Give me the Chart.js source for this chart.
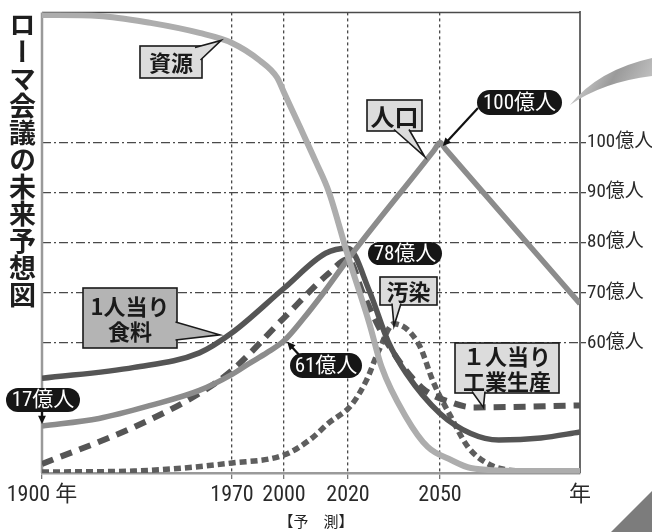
<!DOCTYPE html>
<html lang="ja">
<head>
<meta charset="utf-8">
<title>ローマ会議の未来予想図</title>
<script src="https://cdn.jsdelivr.net/npm/chart.js@4"></script>
<style>
  body { margin: 0; background: #fff; }
  #wrap { position: relative; width: 652px; height: 532px; }
  #title {
    position: absolute; left: 7px; top: 11px;
    writing-mode: vertical-rl;
    font: bold 27px "Noto Sans CJK JP", sans-serif;
    line-height: 30px; color: #1e1e1e;
  }
</style>
</head>
<body>
<div id="wrap">
  <canvas id="chart"></canvas>
  <div id="title">ローマ会議の未来予想図</div>
</div>
<script>
// tick labels
const xTickYears = [1900, 1970, 2000, 2020, 2050, 2100];
const xTickLabels = ["1900 年", "1970", "2000", "2020", "2050", "年"];
const yTickValues = [60, 70, 80, 90, 100];
const yTickUnit = "億人";

// series (y is on the 億人 scale of the right axis)
const resourceYears = [1900, 1921, 1940, 1958, 1970, 1986, 1996, 2000, 2005, 2010, 2014, 2020, 2027, 2031, 2039, 2046, 2054, 2061, 2079, 2100];
const resourceValues = [125.5, 125.3, 123.9, 121.9, 119.9, 116.4, 113.0, 110.0, 103.1, 96.1, 90.2, 77.3, 63.8, 55.1, 45.1, 39.2, 36.6, 35.0, 34.4, 34.4];

const populationYears = [1900, 1921, 1940, 1958, 1970, 1980, 1990, 2000, 2006, 2012, 2020, 2048, 2050, 2052, 2100];
const populationValues = [43.4, 44.9, 47.5, 50.5, 53.7, 55.9, 58.0, 60.4, 64.8, 69.7, 76.7, 98.4, 100, 98.7, 67.8];

const foodYears = [1900, 1934, 1958, 1970, 2000, 2013, 2020, 2027, 2033, 2039, 2050, 2061, 2071, 2086, 2100];
const foodValues = [52.9, 55.1, 58.0, 62.0, 70.9, 77.9, 78.9, 70.3, 60.4, 53.9, 45.9, 41.9, 40.6, 41.0, 42.2];

const industryYears = [1900, 1934, 1958, 1970, 2000, 2014, 2020, 2025, 2033, 2044, 2055, 2062, 2100];
const industryValues = [35.8, 43.2, 49.9, 54.5, 65.0, 73.9, 76.7, 69.7, 59.8, 51.1, 47.9, 47.1, 47.5];

const pollutionYears = [1900, 1934, 1970, 2000, 2008, 2014, 2021, 2026, 2030, 2035, 2043, 2048, 2054, 2060, 2068, 2079, 2100];
const pollutionValues = [34.2, 34.4, 36.0, 37.6, 40.6, 44.0, 47.5, 52.5, 58.4, 63.8, 59.8, 51.9, 45.1, 39.2, 35.6, 34.4, 34.2];

const toPoints = (xs, ys) => xs.map((x, i) => ({ x: x, y: ys[i] }));

// the original x axis is not to scale: every period gets its own width
const periodYears = [1900, 1970, 2000, 2020, 2050, 2100];
const periodFracs = [0, 190 / 538, 242 / 538, 306 / 538, 398 / 538, 1];

class PeriodScale extends Chart.LinearScale {
  getPixelForValue(value) {
    let i = 1;
    while (i < periodYears.length - 1 && value > periodYears[i]) i++;
    const t = (value - periodYears[i - 1]) / (periodYears[i] - periodYears[i - 1]);
    return this.getPixelForDecimal(periodFracs[i - 1] + t * (periodFracs[i] - periodFracs[i - 1]));
  }
  getValueForPixel(pixel) {
    const f = this.getDecimalForPixel(pixel);
    let i = 1;
    while (i < periodFracs.length - 1 && f > periodFracs[i]) i++;
    const t = (f - periodFracs[i - 1]) / (periodFracs[i] - periodFracs[i - 1]);
    return periodYears[i - 1] + t * (periodYears[i] - periodYears[i - 1]);
  }
}
PeriodScale.id = "period";
PeriodScale.defaults = Chart.LinearScale.defaults;
Chart.register(PeriodScale);

const narrowFont = '"Roboto Condensed", "Noto Sans CJK JP", sans-serif';
const jpFont = '"Noto Sans CJK JP", sans-serif';

// callouts
const boxNotes = [
  { lines: ["資源"], x: 140, y: 46, w: 62, h: 32, fill: "#dcdcdc", size: 22, tip: [1966, 120.4], base: [[195, 47.5], [200.5, 60]] },
  { lines: ["人口"], x: 367, y: 100, w: 55, h: 31, fill: "#dcdcdc", size: 24, tip: [2045, 97.2], base: [[394, 129.5], [409, 129.5]] },
  { lines: ["汚染"], x: 380, y: 277, w: 57, h: 28, fill: "#dcdcdc", size: 22, tip: [2035, 63.4], base: [[392, 303.5], [401, 303.5]] },
  { lines: ["1人当り", "食料"], x: 83, y: 288, w: 94, h: 60, fill: "#b4b4b4", size: 22, tip: [1965.5, 61.6], base: [[175.5, 322], [175.5, 340]] },
  { lines: ["１人当り", "工業生産"], x: 455, y: 343, w: 104, h: 50, fill: "#dcdcdc", size: 22, tip: [2065.5, 47.1], base: [[472, 391.5], [485, 391.5]] }
];
const pillNotes = [
  { text: "100億人", x: 477, y: 90, w: 85, h: 25 },
  { text: "78億人", x: 368, y: 242, w: 74, h: 23 },
  { text: "61億人", x: 290, y: 353, w: 72, h: 25 },
  { text: "17億人", x: 6, y: 388, w: 74, h: 24 }
];
const arrowNotes = [
  { from: [478, 108], tip: [2051, 99.3] },
  { from: [301, 357], tip: [2001, 60.2] },
  { from: [42, 411], tip: [1900, 43.8] }
];

function drawArrow(ctx, x1, y1, x2, y2) {
  const a = Math.atan2(y2 - y1, x2 - x1);
  const head = 9;
  ctx.strokeStyle = "#111";
  ctx.fillStyle = "#111";
  ctx.lineWidth = 2.2;
  ctx.beginPath();
  ctx.moveTo(x1, y1);
  ctx.lineTo(x2 - Math.cos(a) * head * 0.7, y2 - Math.sin(a) * head * 0.7);
  ctx.stroke();
  ctx.beginPath();
  ctx.moveTo(x2, y2);
  ctx.lineTo(x2 - head * Math.cos(a - 0.45), y2 - head * Math.sin(a - 0.45));
  ctx.lineTo(x2 - head * Math.cos(a + 0.45), y2 - head * Math.sin(a + 0.45));
  ctx.closePath();
  ctx.fill();
}

const framePlugin = {
  id: "frame",
  beforeDatasetsDraw(chart) {
    const { ctx, chartArea: a } = chart;
    ctx.save();
    ctx.strokeStyle = "#4a4a4a";
    ctx.lineWidth = 1.5;
    ctx.beginPath();
    ctx.moveTo(a.left, a.top);
    ctx.lineTo(a.right, a.top);
    ctx.stroke();
    ctx.strokeStyle = "#9a9a9a";
    ctx.lineWidth = 2.5;
    ctx.beginPath();
    ctx.moveTo(a.left, a.top);
    ctx.lineTo(a.left, a.bottom);
    ctx.stroke();
    ctx.restore();
  }
};

const notesPlugin = {
  id: "notes",
  afterDraw(chart) {
    const { ctx } = chart;
    const xs = chart.scales.x, ys = chart.scales.y;
    ctx.save();
    ctx.textAlign = "center";
    ctx.textBaseline = "middle";

    boxNotes.forEach(n => {
      const tx = xs.getPixelForValue(n.tip[0]), ty = ys.getPixelForValue(n.tip[1]);
      ctx.lineWidth = 1.6;
      ctx.strokeStyle = "#1a1a1a";
      ctx.fillStyle = n.fill;
      ctx.fillRect(n.x, n.y, n.w, n.h);
      ctx.strokeRect(n.x, n.y, n.w, n.h);
      ctx.beginPath();
      ctx.moveTo(n.base[0][0], n.base[0][1]);
      ctx.lineTo(tx, ty);
      ctx.lineTo(n.base[1][0], n.base[1][1]);
      ctx.fill();
      ctx.stroke();
      ctx.fillStyle = "#1a1a1a";
      ctx.font = "bold " + n.size + "px " + jpFont;
      const lh = n.size * 1.12;
      n.lines.forEach((t, i) => {
        ctx.fillText(t, n.x + n.w / 2, n.y + n.h / 2 + 1 + (i - (n.lines.length - 1) / 2) * lh);
      });
    });

    arrowNotes.forEach(n => {
      drawArrow(ctx, n.from[0], n.from[1], xs.getPixelForValue(n.tip[0]), ys.getPixelForValue(n.tip[1]));
    });

    pillNotes.forEach(p => {
      ctx.fillStyle = "#161616";
      ctx.beginPath();
      ctx.roundRect(p.x, p.y, p.w, p.h, p.h / 2);
      ctx.fill();
      ctx.fillStyle = "#fff";
      ctx.font = "21px " + narrowFont;
      ctx.fillText(p.text, p.x + p.w / 2, p.y + p.h / 2 + 1);
    });

    // 【予 測】 under the forecast years
    ctx.fillStyle = "#222";
    ctx.font = "15px " + jpFont;
    ctx.fillText("【予　測】", (xs.getPixelForValue(2000) + xs.getPixelForValue(2020)) / 2, 521);

    // decorations at the edges
    const g = ctx.createLinearGradient(570, 60, 652, 105);
    g.addColorStop(0, "#e6e6e6");
    g.addColorStop(0.5, "#9a9a9a");
    g.addColorStop(1, "#cfcfcf");
    ctx.fillStyle = g;
    ctx.beginPath();
    ctx.moveTo(570, 105);
    ctx.quadraticCurveTo(598, 70, 652, 58);
    ctx.lineTo(652, 76);
    ctx.quadraticCurveTo(603, 82, 570, 105);
    ctx.fill();
    ctx.fillStyle = "#7c7c7c";
    ctx.beginPath();
    ctx.moveTo(611, 532);
    ctx.lineTo(652, 491);
    ctx.lineTo(652, 532);
    ctx.closePath();
    ctx.fill();
    ctx.restore();
  }
};

const ctx = document.getElementById("chart").getContext("2d");

const chart = new Chart(ctx, {
  type: "line",
  data: {
    datasets: [
      {
        label: "資源",
        data: toPoints(resourceYears, resourceValues),
        borderColor: "#adadad",
        borderWidth: 6,
        cubicInterpolationMode: "monotone"
      },
      {
        label: "人口",
        data: toPoints(populationYears, populationValues),
        borderColor: "#8c8c8c",
        borderWidth: 5.5,
        cubicInterpolationMode: "monotone"
      },
      {
        label: "1人当り食料",
        data: toPoints(foodYears, foodValues),
        borderColor: "#555",
        borderWidth: 5.5,
        cubicInterpolationMode: "monotone"
      },
      {
        label: "1人当り工業生産",
        data: toPoints(industryYears, industryValues),
        borderColor: "#555",
        borderWidth: 6,
        borderDash: [12, 8],
        cubicInterpolationMode: "monotone"
      },
      {
        label: "汚染",
        data: toPoints(pollutionYears, pollutionValues),
        borderColor: "#5e5e5e",
        borderWidth: 5.5,
        borderDash: [7, 4],
        cubicInterpolationMode: "monotone"
      }
    ]
  },
  options: {
    responsive: true,
    maintainAspectRatio: false,
    animation: false,
    layout: { padding: { left: 42, top: 10, right: 0, bottom: 0 } },
    elements: { point: { radius: 0 }, line: { borderCapStyle: "butt", fill: false } },
    plugins: { legend: { display: false }, tooltip: { enabled: false } },
    scales: {
      x: {
        type: "period",
        min: 1900,
        max: 2100,
        afterBuildTicks: s => { s.ticks = xTickYears.map(v => ({ value: v })); },
        afterFit: s => { s.height = 59; },
        ticks: {
          autoSkip: false,
          maxRotation: 0,
          padding: 3,
          color: "#2a2a2a",
          font: { family: narrowFont, size: 22 },
          callback: (v, i) => xTickLabels[i]
        },
        grid: {
          color: c => (c.tick && (c.tick.value === 1900 || c.tick.value === 2100)) ? "rgba(0,0,0,0)" : "#4a4a4a",
          tickColor: c => (c.tick && c.tick.value === 2100) ? "rgba(0,0,0,0)" : "#777",
          lineWidth: 1.3,
          tickLength: 6
        },
        border: { color: "#9a9a9a", width: 2.5, dash: [3, 3] }
      },
      y: {
        position: "right",
        min: 34,
        max: 126,
        afterBuildTicks: s => { s.ticks = yTickValues.map(v => ({ value: v })); },
        afterFit: s => { s.width = 72; },
        ticks: {
          padding: 1,
          color: "#2a2a2a",
          font: { family: narrowFont, size: 19 },
          callback: v => v + yTickUnit
        },
        grid: { color: "#4a4a4a", lineWidth: 1.3, tickLength: 6, tickColor: "#4a4a4a" },
        border: { color: "#6a6a6a", width: 2, dash: [9, 3, 2, 3] }
      }
    }
  },
  plugins: [framePlugin, notesPlugin]
});
</script>
</body>
</html>
